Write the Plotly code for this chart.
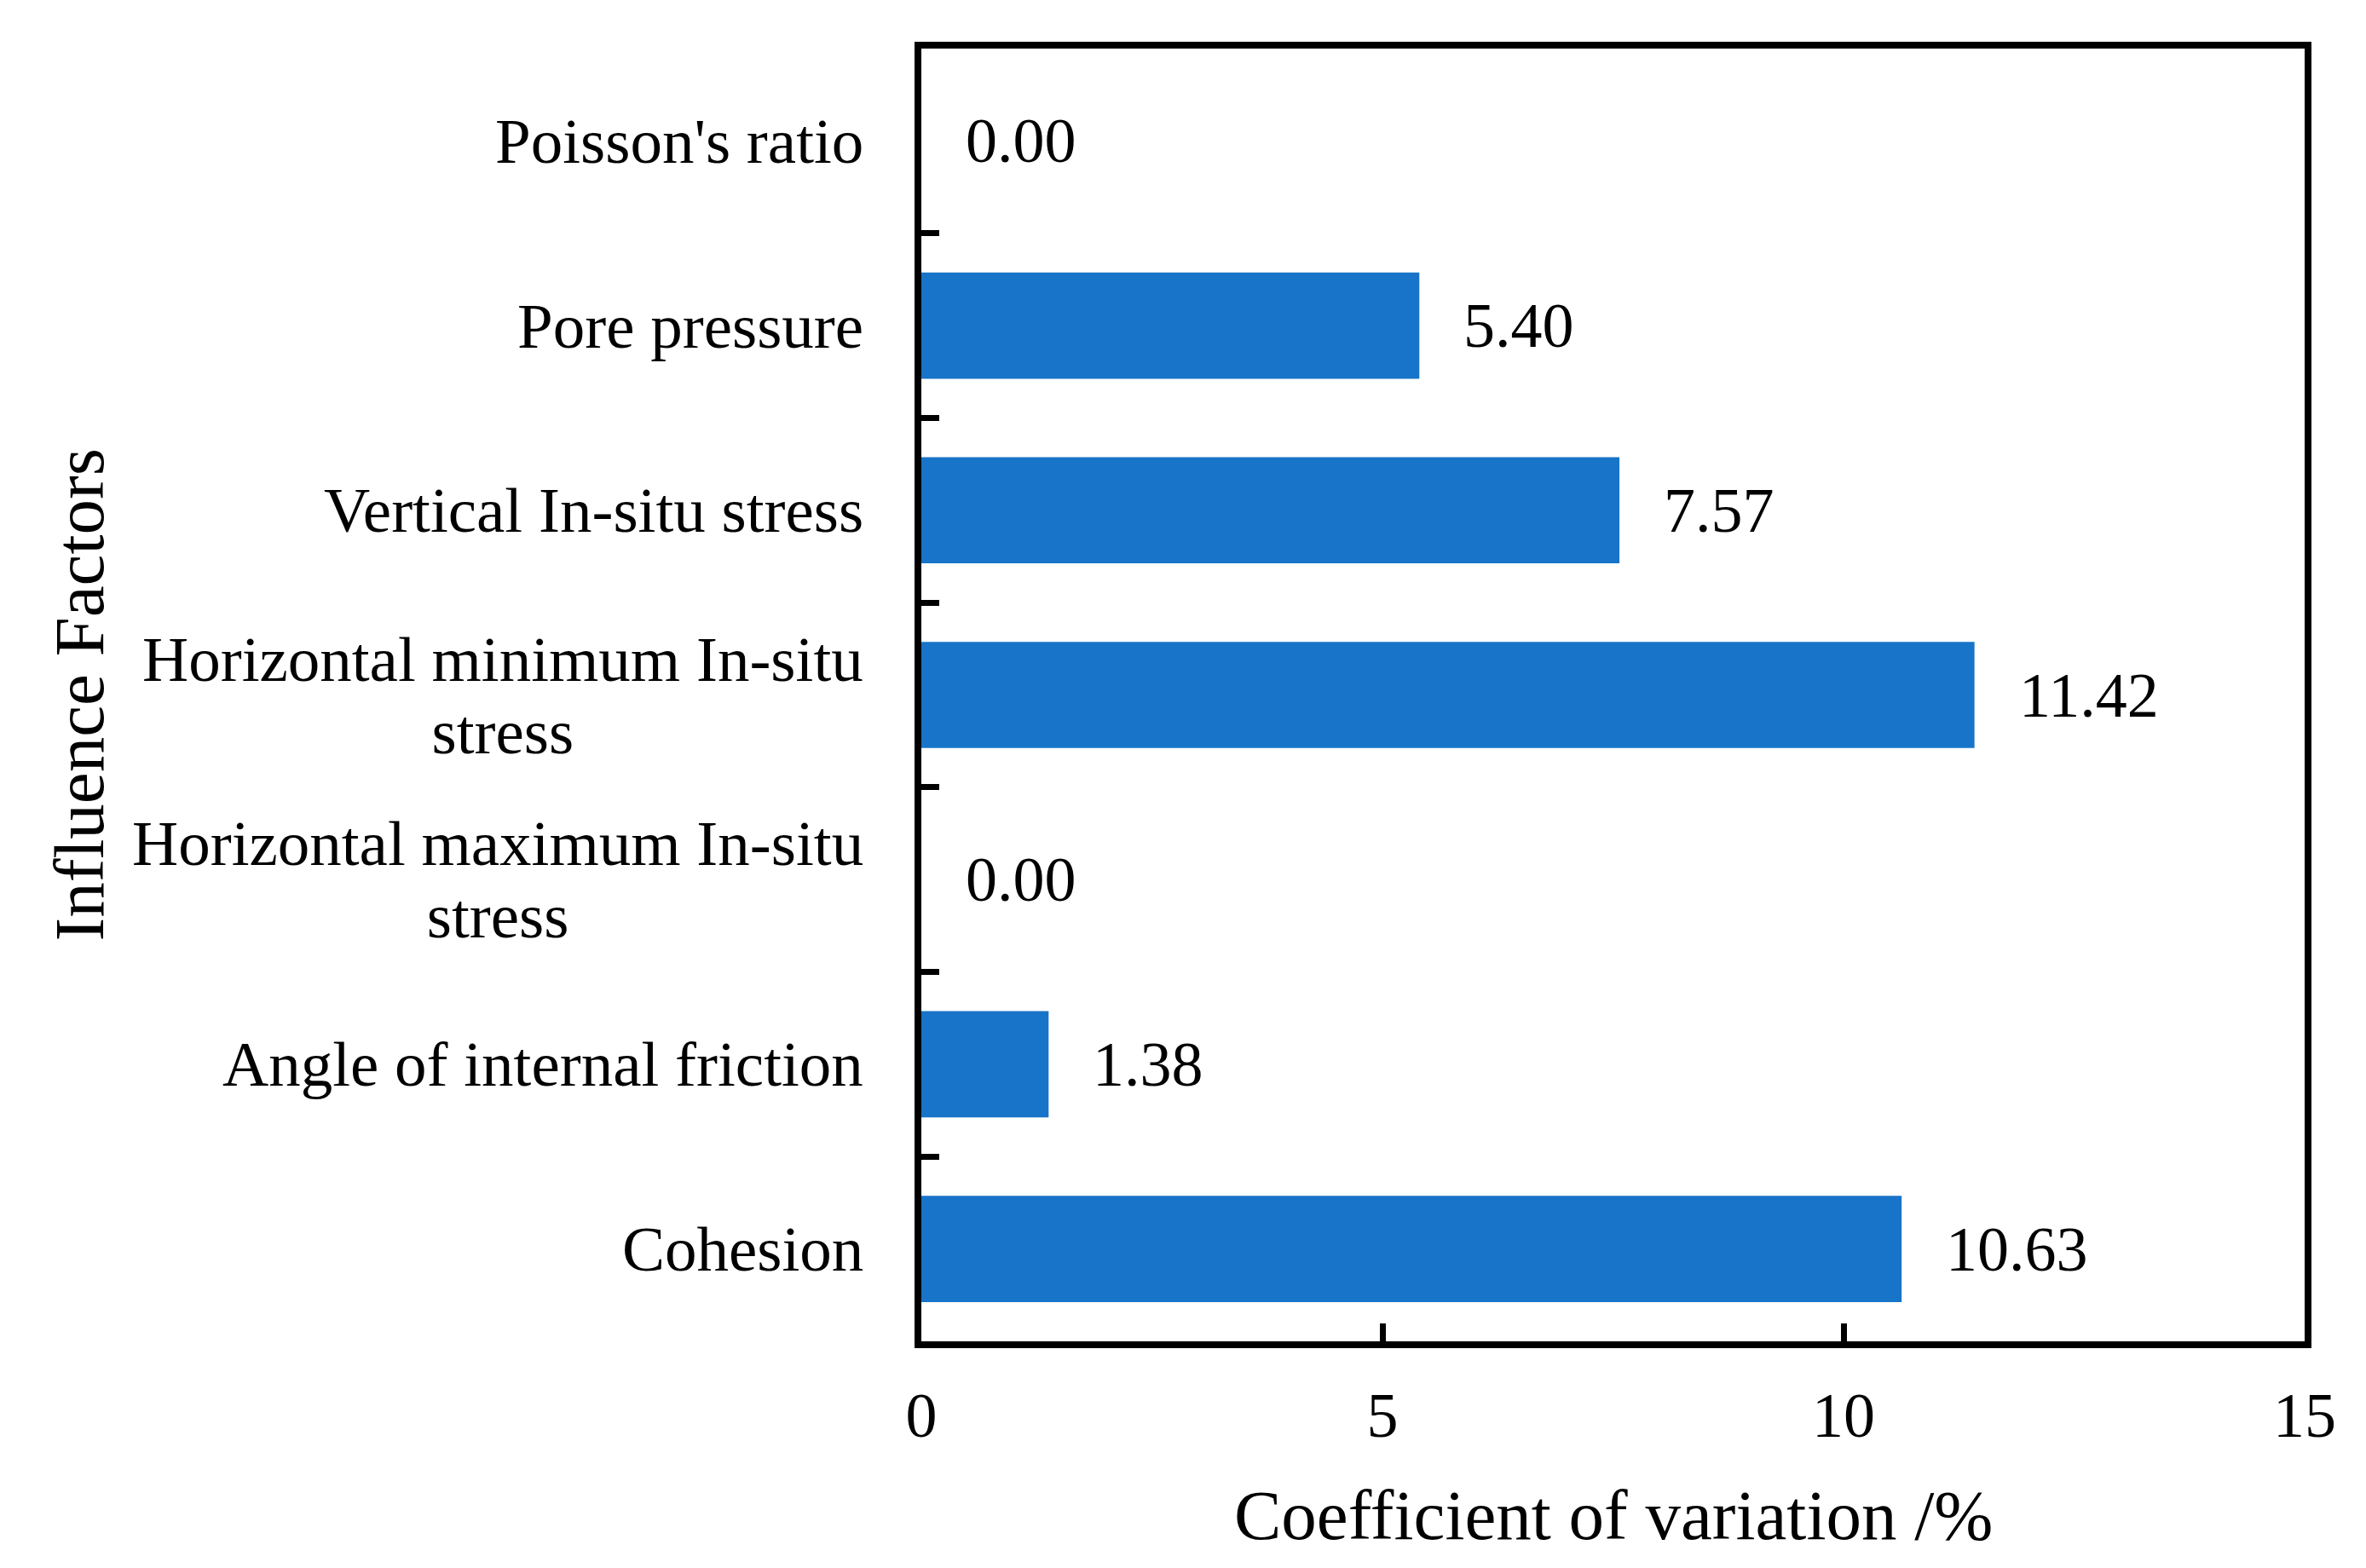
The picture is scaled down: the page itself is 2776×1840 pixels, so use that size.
import plotly.graph_objects as go

categories = ["Cohesion", "Angle of internal friction",
              "Horizontal maximum In-situ<br>stress",
              "Horizontal minimum In-situ<br>stress",
              "Vertical In-situ stress", "Pore pressure", "Poisson's ratio"]
values = [10.63, 1.38, 0.00, 11.42, 7.57, 5.40, 0.00]
x_ticks = [0, 5, 10, 15]
x_title = "Coefficient of variation /%"
y_title = "Influence Factors"

FONT = "Liberation Serif, Times New Roman, serif"
BAR_COLOR = "#1874C8"

fig = go.Figure()
fig.add_trace(go.Bar(
    x=values, y=categories, orientation="h",
    marker=dict(color=BAR_COLOR, line=dict(width=0)),
    width=0.575,
))

ann = []
for c, v in zip(categories, values):
    ann.append(dict(x=v, y=c, xref="x", yref="y", text=f"{v:.2f}",
                    showarrow=False, xanchor="left", yanchor="middle",
                    xshift=50, font=dict(family=FONT, size=74, color="black")))
    ann.append(dict(x=0, y=c, xref="paper", yref="y",
                    text="<br>".join(f"<span style='font-size:75px'>{part}</span>"
                                     for part in c.split("<br>")),
                    showarrow=False, xanchor="right", yanchor="middle",
                    align="center", xshift=-66,
                    font=dict(family=FONT, size=65, color="black")))

ann.append(dict(x=0.5, y=0, xref="paper", yref="paper", text=x_title,
                showarrow=False, xanchor="center", yanchor="middle",
                yshift=-204, font=dict(family=FONT, size=83, color="black")))
ann.append(dict(x=0, y=0.5, xref="paper", yref="paper", text=y_title,
                showarrow=False, xanchor="center", yanchor="middle",
                xshift=-989, textangle=-90,
                font=dict(family=FONT, size=83, color="black")))

fig.update_layout(
    width=2776, height=1840,
    margin=dict(l=1073, r=80, t=49, b=274),
    paper_bgcolor="white", plot_bgcolor="white",
    showlegend=False,
    annotations=ann,
    xaxis=dict(range=[0, 15], tickvals=x_ticks, ticktext=[str(t) for t in x_ticks],
               showgrid=False, zeroline=False,
               showline=True, linecolor="black", linewidth=7.5, mirror=True,
               ticks="inside", ticklen=21, tickwidth=7, tickcolor="black",
               ticklabelstandoff=15,
               tickfont=dict(family=FONT, size=74, color="black")),
    yaxis=dict(categoryorder="array", categoryarray=categories,
               range=[-0.5, len(categories) - 0.5],
               showgrid=False, zeroline=False,
               showline=True, linecolor="black", linewidth=7.5, mirror=True,
               ticks="inside", tickson="boundaries", ticklen=21, tickwidth=7,
               tickcolor="black", showticklabels=False),
)

fig.write_html("out.html")
